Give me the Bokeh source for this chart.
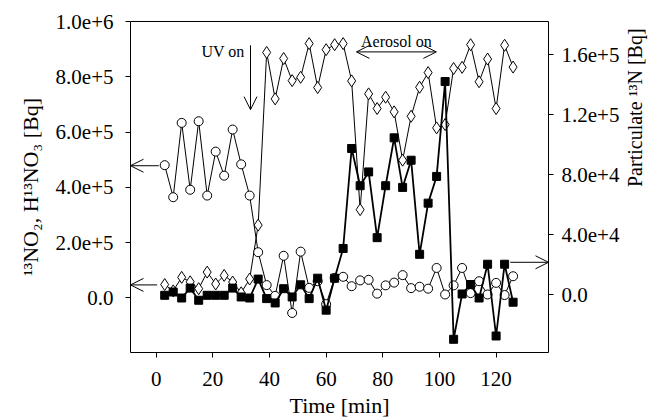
import math
from bokeh.plotting import figure
from bokeh.models import Range1d, LinearAxis, FixedTicker, Arrow, OpenHead, ColumnDataSource
from bokeh.core.properties import value
from bokeh.embed import file_html
from bokeh.resources import INLINE

FONT = "Liberation Serif"

# ---- data ----
time = [3, 6, 9, 12, 15, 18, 21, 24, 27, 30, 33, 36, 39, 42, 45, 48, 51, 54, 57, 60, 63,
        66, 69, 72, 75, 78, 81, 84, 87, 90, 93, 96, 99, 102, 105, 108, 111, 114, 117, 120, 123, 126]

no2 = [4.80e5, 3.64e5, 6.33e5, 3.91e5, 6.39e5, 3.70e5, 5.29e5, 4.42e5, 6.09e5, 4.83e5, 3.70e5,
       1.65e5, 4.6e4, 7e3, 1.52e5, -5.5e4, 1.67e5, 3.6e4, 6.0e4, -2.3e4, 7.2e4,
       7.6e4, 4.2e4, 6.3e4, 6.5e4, 1.5e4, 4.5e4, 5.5e4, 8.2e4, 3.5e4, 4.0e4, 3.3e4, 1.08e5,
       1.2e4, 4.5e4, 1.08e5, 1.7e4, 6.0e4, 1.2e4, 5.4e4, 1.0e4, 7.8e4]

hno3 = [4.8e4, 2.5e4, 7.4e4, 5.8e4, 3.3e4, 9.3e4, 5.0e4, 8.1e4, 5.7e4, 1.8e4, 6.8e4,
        2.63e5, 8.88e5, 7.20e5, 8.66e5, 7.86e5, 7.98e5, 9.20e5, 7.61e5, 8.98e5, 9.16e5,
        9.20e5, 7.85e5, 3.19e5, 7.38e5, 6.85e5, 7.26e5, 6.73e5, 4.98e5, 6.57e5, 7.62e5, 8.15e5,
        6.15e5, 6.27e5, 8.30e5, 8.34e5, 9.16e5, 7.82e5, 8.64e5, 6.85e5, 9.14e5, 8.35e5]

particulate = [-400, 1800, -2200, 4400, -3700, -400, -400, -400, 4400, -1500, -2200,
               1.04e4, -2600, -5500, 4000, -1500, 6600, -2600, 1.1e4, -1.03e4, 1.1e4,
               3.08e4, 9.74e4, 7.26e4, 8.18e4, 3.8e4, 7.26e4, 1.045e5, 7.15e4, 8.96e4, 2.69e4,
               6.1e4, 7.88e4, 1.42e5, -2.97e4, 500, 6800, -2200, 2.03e4, -2.75e4, 2.03e4, -5000]

x_ticks = [0, 20, 40, 60, 80, 100, 120]
left_ticks = [0, 2e5, 4e5, 6e5, 8e5, 1e6]
left_labels = ["0.0", "2.0e+5", "4.0e+5", "6.0e+5", "8.0e+5", "1.0e+6"]
right_ticks = [0, 4e4, 8e4, 1.2e5, 1.6e5]
right_labels = ["0.0", "4.0e+4", "8.0e+4", "1.2e+5", "1.6e+5"]

# ---- figure ----
p = figure(width=663, height=420, output_backend="svg", toolbar_location=None,
           x_range=Range1d(-9.07, 138.5), y_range=Range1d(-1.98e5, 1.0e6),
           min_border_left=130, min_border_right=115, min_border_top=21, min_border_bottom=65)
p.extra_y_ranges = {"right": Range1d(-3.85e4, 1.82e5)}
p.xgrid.visible = False
p.ygrid.visible = False
p.outline_line_color = "black"
p.outline_line_width = 1
p.background_fill_color = "white"
p.border_fill_color = "white"

src = ColumnDataSource(dict(t=time, no2=no2, hno3=hno3, part=particulate))

p.line("t", "hno3", source=src, line_color="black", line_width=1)
p.scatter("t", "hno3", source=src, marker="diamond", size=12, fill_color="white",
          line_color="black", line_width=1)
p.line("t", "no2", source=src, line_color="black", line_width=1)
p.scatter("t", "no2", source=src, marker="circle", size=9, fill_color="white",
          line_color="black", line_width=1)
p.line("t", "part", source=src, line_color="black", line_width=1.8, y_range_name="right")
p.scatter("t", "part", source=src, marker="square", size=8, fill_color="black",
          line_color="black", y_range_name="right")

# ---- axes ----
def style(ax):
    ax.axis_line_color = None
    ax.major_tick_line_color = "black"
    ax.major_tick_in = 0
    ax.major_tick_out = 5
    ax.minor_tick_line_color = None
    ax.major_label_text_font = FONT
    ax.major_label_text_font_size = "21px"
    ax.major_label_text_color = "black"
    ax.axis_label_text_font = FONT
    ax.axis_label_text_font_size = "22px"
    ax.axis_label_text_font_style = "normal"
    ax.axis_label_text_color = "black"

xa = p.xaxis[0]
style(xa)
xa.ticker = FixedTicker(ticks=x_ticks)
xa.axis_label = "Time [min]"
xa.major_label_standoff = 14
xa.axis_label_standoff = 4

ya = p.yaxis[0]
style(ya)
ya.ticker = FixedTicker(ticks=left_ticks)
ya.major_label_overrides = {t: l for t, l in zip(left_ticks, left_labels)}
ya.axis_label = "¹³NO₂, H¹³NO₃ [Bq]"
ya.major_label_standoff = 12
ya.axis_label_standoff = 10

ra = LinearAxis(y_range_name="right")
style(ra)
ra.ticker = FixedTicker(ticks=right_ticks)
ra.major_label_overrides = {t: l for t, l in zip(right_ticks, right_labels)}
ra.major_label_standoff = 8
ra.axis_label = "Particulate ¹³N [Bq]"
ra.axis_label_text_font_size = "20px"
ra.axis_label_standoff = 13
if hasattr(ra, "axis_label_orientation"):
    ra.axis_label_orientation = math.pi / 2
p.add_layout(ra, "right")

# ---- annotations ----
head = lambda: OpenHead(size=13, line_width=1, line_color="black")
p.add_layout(Arrow(end=head(), x_start=33.3, y_start=9.14e5, x_end=33.3, y_end=6.81e5,
                   line_color="black", line_width=1))
p.add_layout(Arrow(start=head(), end=head(), x_start=70.7, y_start=8.9e5, x_end=98.9,
                   y_end=8.9e5, line_color="black", line_width=1))
p.add_layout(Arrow(end=head(), x_start=0.9, y_start=4.78e5, x_end=-9.07, y_end=4.78e5,
                   line_color="black", line_width=1))
p.add_layout(Arrow(end=head(), x_start=0.35, y_start=4.66e4, x_end=-9.07, y_end=4.66e4,
                   line_color="black", line_width=1))
p.add_layout(Arrow(end=head(), x_start=125.0, y_start=2.16e4, x_end=138.5, y_end=2.16e4,
                   line_color="black", line_width=1, y_range_name="right"))

p.text(x=[31.2], y=[8.9e5], text=["UV on"], text_font=value(FONT), text_font_size="16px",
       text_align="right", text_baseline="alphabetic", text_color="black")
p.text(x=[84.8], y=[9.26e5], text=["Aerosol on"], text_font=value(FONT), text_font_size="16px",
       text_align="center", text_baseline="alphabetic", text_color="black")

open("out.html", "w").write(file_html(p, INLINE))
